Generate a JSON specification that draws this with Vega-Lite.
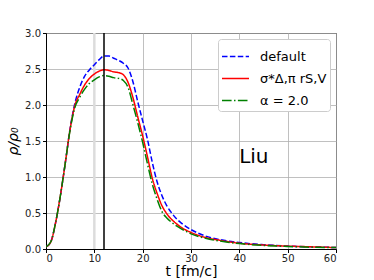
{
  "$schema": "https://vega.github.io/schema/vega-lite/v6.json",
  "width": 290,
  "height": 216,
  "autosize": {"type": "none"},
  "padding": {"left": 46, "top": 33, "right": 38, "bottom": 31},
  "background": "white",
  "config": {
    "font": "DejaVu Sans",
    "view": {"stroke": "black", "strokeWidth": 1},
    "axis": {
      "domainColor": "black",
      "tickColor": "black",
      "tickSize": 3.5,
      "labelFontSize": 10,
      "labelColor": "#222",
      "labelFont": "DejaVu Sans",
      "titleFont": "DejaVu Sans",
      "titleFontSize": 14,
      "titleFontWeight": "normal",
      "titleColor": "black",
      "gridColor": "#b0b0b0",
      "gridWidth": 0.8,
      "gridOpacity": 1,
      "labelPadding": 2,
      "labelOverlap": false
    }
  },
  "datasets": {
    "curves": [
      {"t":0,"rho":0.03,"s":"default"},{"t":1,"rho":0.1,"s":"default"},{"t":2,"rho":0.37,"s":"default"},{"t":3,"rho":0.75,"s":"default"},{"t":4,"rho":1.2,"s":"default"},{"t":5,"rho":1.68,"s":"default"},{"t":6,"rho":2.03,"s":"default"},{"t":7,"rho":2.25,"s":"default"},{"t":8,"rho":2.4,"s":"default"},{"t":9,"rho":2.49,"s":"default"},{"t":10,"rho":2.56,"s":"default"},{"t":11,"rho":2.63,"s":"default"},{"t":12,"rho":2.68,"s":"default"},{"t":13,"rho":2.68,"s":"default"},{"t":14,"rho":2.65,"s":"default"},{"t":15,"rho":2.62,"s":"default"},{"t":16,"rho":2.58,"s":"default"},{"t":17,"rho":2.51,"s":"default"},{"t":18,"rho":2.32,"s":"default"},{"t":19,"rho":2.04,"s":"default"},{"t":20,"rho":1.78,"s":"default"},{"t":21,"rho":1.52,"s":"default"},{"t":22,"rho":1.2,"s":"default"},{"t":23,"rho":0.93,"s":"default"},{"t":24,"rho":0.74,"s":"default"},{"t":25,"rho":0.6,"s":"default"},{"t":26,"rho":0.5,"s":"default"},{"t":27,"rho":0.42,"s":"default"},{"t":28,"rho":0.36,"s":"default"},{"t":30,"rho":0.27,"s":"default"},{"t":33,"rho":0.18,"s":"default"},{"t":36,"rho":0.13,"s":"default"},{"t":40,"rho":0.09,"s":"default"},{"t":45,"rho":0.06,"s":"default"},{"t":50,"rho":0.04,"s":"default"},{"t":55,"rho":0.03,"s":"default"},{"t":60,"rho":0.02,"s":"default"},
      {"t":0,"rho":0.03,"s":"σ*Δ,π rS,V"},{"t":1,"rho":0.1,"s":"σ*Δ,π rS,V"},{"t":2,"rho":0.37,"s":"σ*Δ,π rS,V"},{"t":3,"rho":0.75,"s":"σ*Δ,π rS,V"},{"t":4,"rho":1.2,"s":"σ*Δ,π rS,V"},{"t":5,"rho":1.67,"s":"σ*Δ,π rS,V"},{"t":6,"rho":2.0,"s":"σ*Δ,π rS,V"},{"t":7,"rho":2.15,"s":"σ*Δ,π rS,V"},{"t":8,"rho":2.28,"s":"σ*Δ,π rS,V"},{"t":9,"rho":2.37,"s":"σ*Δ,π rS,V"},{"t":10,"rho":2.43,"s":"σ*Δ,π rS,V"},{"t":11,"rho":2.47,"s":"σ*Δ,π rS,V"},{"t":12,"rho":2.49,"s":"σ*Δ,π rS,V"},{"t":13,"rho":2.48,"s":"σ*Δ,π rS,V"},{"t":14,"rho":2.46,"s":"σ*Δ,π rS,V"},{"t":15,"rho":2.45,"s":"σ*Δ,π rS,V"},{"t":16,"rho":2.42,"s":"σ*Δ,π rS,V"},{"t":17,"rho":2.31,"s":"σ*Δ,π rS,V"},{"t":18,"rho":2.1,"s":"σ*Δ,π rS,V"},{"t":19,"rho":1.83,"s":"σ*Δ,π rS,V"},{"t":20,"rho":1.57,"s":"σ*Δ,π rS,V"},{"t":21,"rho":1.28,"s":"σ*Δ,π rS,V"},{"t":22,"rho":0.98,"s":"σ*Δ,π rS,V"},{"t":23,"rho":0.77,"s":"σ*Δ,π rS,V"},{"t":24,"rho":0.6,"s":"σ*Δ,π rS,V"},{"t":25,"rho":0.49,"s":"σ*Δ,π rS,V"},{"t":26,"rho":0.41,"s":"σ*Δ,π rS,V"},{"t":27,"rho":0.35,"s":"σ*Δ,π rS,V"},{"t":28,"rho":0.3,"s":"σ*Δ,π rS,V"},{"t":30,"rho":0.23,"s":"σ*Δ,π rS,V"},{"t":33,"rho":0.16,"s":"σ*Δ,π rS,V"},{"t":36,"rho":0.12,"s":"σ*Δ,π rS,V"},{"t":40,"rho":0.08,"s":"σ*Δ,π rS,V"},{"t":45,"rho":0.055,"s":"σ*Δ,π rS,V"},{"t":50,"rho":0.04,"s":"σ*Δ,π rS,V"},{"t":55,"rho":0.03,"s":"σ*Δ,π rS,V"},{"t":60,"rho":0.02,"s":"σ*Δ,π rS,V"},
      {"t":0,"rho":0.03,"s":"α = 2.0"},{"t":1,"rho":0.1,"s":"α = 2.0"},{"t":2,"rho":0.37,"s":"α = 2.0"},{"t":3,"rho":0.75,"s":"α = 2.0"},{"t":4,"rho":1.2,"s":"α = 2.0"},{"t":5,"rho":1.66,"s":"α = 2.0"},{"t":6,"rho":1.97,"s":"α = 2.0"},{"t":7,"rho":2.11,"s":"α = 2.0"},{"t":8,"rho":2.22,"s":"α = 2.0"},{"t":9,"rho":2.3,"s":"α = 2.0"},{"t":10,"rho":2.35,"s":"α = 2.0"},{"t":11,"rho":2.39,"s":"α = 2.0"},{"t":12,"rho":2.41,"s":"α = 2.0"},{"t":13,"rho":2.4,"s":"α = 2.0"},{"t":14,"rho":2.38,"s":"α = 2.0"},{"t":15,"rho":2.37,"s":"α = 2.0"},{"t":16,"rho":2.34,"s":"α = 2.0"},{"t":17,"rho":2.24,"s":"α = 2.0"},{"t":18,"rho":2.0,"s":"α = 2.0"},{"t":19,"rho":1.75,"s":"α = 2.0"},{"t":20,"rho":1.48,"s":"α = 2.0"},{"t":21,"rho":1.18,"s":"α = 2.0"},{"t":22,"rho":0.9,"s":"α = 2.0"},{"t":23,"rho":0.69,"s":"α = 2.0"},{"t":24,"rho":0.52,"s":"α = 2.0"},{"t":25,"rho":0.43,"s":"α = 2.0"},{"t":26,"rho":0.37,"s":"α = 2.0"},{"t":27,"rho":0.32,"s":"α = 2.0"},{"t":28,"rho":0.28,"s":"α = 2.0"},{"t":30,"rho":0.21,"s":"α = 2.0"},{"t":33,"rho":0.15,"s":"α = 2.0"},{"t":36,"rho":0.11,"s":"α = 2.0"},{"t":40,"rho":0.075,"s":"α = 2.0"},{"t":45,"rho":0.05,"s":"α = 2.0"},{"t":50,"rho":0.035,"s":"α = 2.0"},{"t":55,"rho":0.025,"s":"α = 2.0"},{"t":60,"rho":0.02,"s":"α = 2.0"}
    ]
  },
  "layer": [
    {
      "data": {"values": [{"t": 10}]},
      "mark": {"type": "rule", "color": "#dcdcdc", "strokeWidth": 2.5},
      "encoding": {
        "x": {
          "field": "t", "type": "quantitative",
          "scale": {"domain": [0, 60], "nice": false},
          "axis": {"values": [0, 10, 20, 30, 40, 50, 60], "title": "t [fm/c]", "titlePadding": 1, "labelPadding": 1}
        }
      }
    },
    {
      "data": {"name": "curves"},
      "mark": {"type": "line", "strokeWidth": 1.5, "interpolate": "monotone", "clip": true},
      "encoding": {
        "x": {
          "field": "t", "type": "quantitative",
          "scale": {"domain": [0, 60], "nice": false},
          "axis": {"values": [0, 10, 20, 30, 40, 50, 60], "title": "t [fm/c]", "titlePadding": 1, "labelPadding": 1}
        },
        "y": {
          "field": "rho", "type": "quantitative",
          "scale": {"domain": [0, 3], "nice": false},
          "axis": {"values": [0, 0.5, 1, 1.5, 2, 2.5, 3], "labelExpr": "format(datum.value, '.1f')", "title": "ρ/ρ₀", "titleFontStyle": "italic", "titlePadding": 4}
        },
        "color": {
          "field": "s", "type": "nominal",
          "scale": {"domain": ["default", "σ*Δ,π rS,V", "α = 2.0"], "range": ["#0000ff", "#ff0000", "#008000"]},
          "legend": {
            "title": null,
            "orient": "top-right",
            "offset": 6,
            "labelFontSize": 13,
            "labelFont": "DejaVu Sans",
            "labelColor": "black",
            "symbolType": "stroke",
            "symbolSize": 729,
            "symbolStrokeWidth": 1.5,
            "rowPadding": -1.5,
            "fillColor": "white",
            "strokeColor": "#cccccc",
            "cornerRadius": 3,
            "padding": 3,
            "labelOffset": 10
          }
        },
        "strokeDash": {
          "field": "s", "type": "nominal",
          "scale": {"domain": ["default", "σ*Δ,π rS,V", "α = 2.0"], "range": [[5.5, 2.4], [1, 0], [9.6, 2.4, 1.5, 2.4]]},
          "legend": {"title": null}
        },
        "order": {"field": "t", "type": "quantitative"}
      }
    },
    {
      "data": {"values": [{"t": 12}]},
      "mark": {"type": "rule", "color": "black", "strokeWidth": 1.5},
      "encoding": {"x": {"field": "t", "type": "quantitative"}}
    },
    {
      "data": {"values": [{"t": 43, "rho": 1.28, "label": "Liu"}]},
      "mark": {"type": "text", "fontSize": 20, "font": "DejaVu Sans", "color": "black", "align": "center", "baseline": "middle"},
      "encoding": {
        "x": {"field": "t", "type": "quantitative"},
        "y": {
          "field": "rho", "type": "quantitative",
          "scale": {"domain": [0, 3], "nice": false},
          "axis": {"values": [0, 0.5, 1, 1.5, 2, 2.5, 3], "labelExpr": "format(datum.value, '.1f')", "title": "ρ/ρ₀", "titleFontStyle": "italic", "titlePadding": 4}
        },
        "text": {"field": "label"}
      }
    }
  ]
}
